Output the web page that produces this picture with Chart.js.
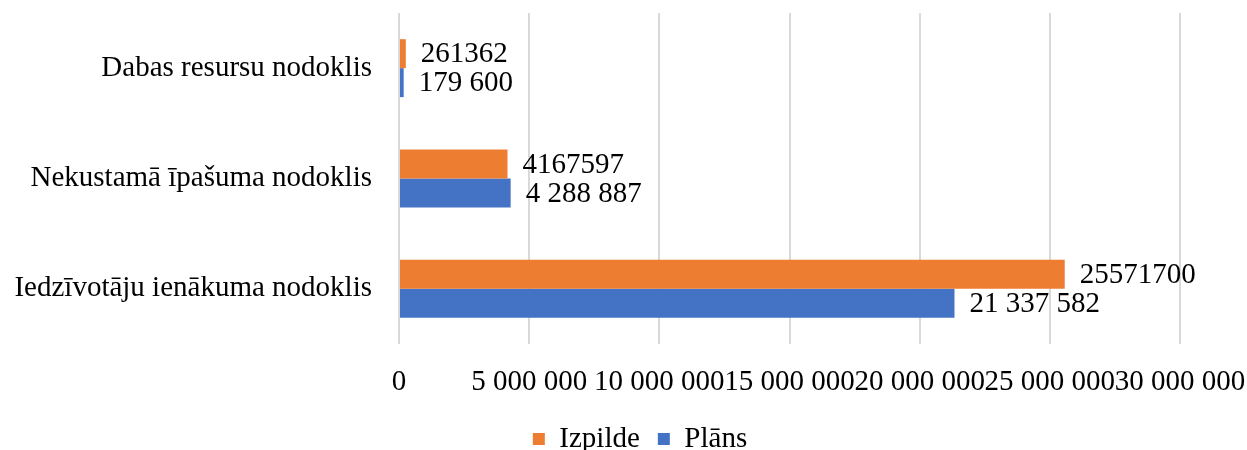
<!DOCTYPE html>
<html>
<head>
<meta charset="utf-8">
<script src="https://cdn.jsdelivr.net/npm/chart.js@4/dist/chart.umd.min.js"></script>
<style>
html,body{margin:0;padding:0;background:#fff;}
#wrap{width:1247px;height:450px;position:relative;}
</style>
</head>
<body>
<div id="wrap"><canvas id="c" width="1247" height="450"></canvas></div>
<script>
const categories = ["Dabas resursu nodoklis", "Nekustamā īpašuma nodoklis", "Iedzīvotāju ienākuma nodoklis"];
const izpilde = [261362, 4167597, 25571700];
const plans = [179600, 4288887, 21337582];
const seriesNames = ["Izpilde", "Plāns"];
const xMax = 30000000;
const xStep = 5000000;

function spaced(v) {
  return String(Math.round(v)).replace(/\B(?=(\d{3})+(?!\d))/g, " ");
}

const FONT = "'Liberation Serif', 'Times New Roman', serif";
const FS = 29;
const LEGEND_SHIFT = 50;

const labelPlugin = {
  id: 'valueLabels',
  afterLayout(chart) {
    if (chart.legend) {
      chart.legend.left += LEGEND_SHIFT;
      chart.legend.right += LEGEND_SHIFT;
    }
  },
  afterDatasetsDraw(chart) {
    const ctx = chart.ctx;
    ctx.save();
    ctx.font = FS + "px " + FONT;
    ctx.fillStyle = "#000";
    ctx.textAlign = "left";
    ctx.textBaseline = "middle";
    chart.data.datasets.forEach((ds, i) => {
      const meta = chart.getDatasetMeta(i);
      meta.data.forEach((bar, j) => {
        const v = ds.data[j];
        ctx.fillText(ds.fmt(v), bar.x + 15, bar.y + 1);
      });
    });
    ctx.restore();
  }
};

new Chart(document.getElementById('c'), {
  type: 'bar',
  data: {
    labels: categories,
    datasets: [
      { label: seriesNames[0], data: izpilde, backgroundColor: '#ED7D31', fmt: v => String(v) },
      { label: seriesNames[1], data: plans, backgroundColor: '#4472C4', fmt: spaced }
    ]
  },
  options: {
    indexAxis: 'y',
    responsive: false,
    animation: false,
    layout: { padding: { left: 0, right: 67, top: 13, bottom: -13.5 } },
    datasets: { bar: { categoryPercentage: 0.525, barPercentage: 1.0 } },
    scales: {
      x: {
        min: 0, max: xMax,
        afterFit(s) { s.height = 62.5; s.paddingLeft = 0; s.paddingRight = 0; },
        ticks: {
          stepSize: xStep,
          font: { family: FONT, size: FS },
          color: '#000',
          padding: 21,
          maxRotation: 0,
          autoSkip: false,
          callback: v => spaced(v)
        },
        grid: { color: '#d9d9d9', lineWidth: 2, drawTicks: false },
        border: { display: false }
      },
      y: {
        afterFit(s) { s.width = 399; s.paddingTop = 0; s.paddingBottom = 0; },
        ticks: { font: { family: FONT, size: FS }, color: '#000', padding: 27 },
        grid: { display: false, drawTicks: false },
        border: { display: false }
      }
    },
    plugins: {
      legend: {
        position: 'bottom',
        labels: { font: { family: FONT, size: FS }, color: '#000', boxWidth: 12, boxHeight: 12, padding: 18 }
      },
      tooltip: { enabled: false }
    }
  },
  plugins: [labelPlugin]
});
</script>
</body>
</html>
